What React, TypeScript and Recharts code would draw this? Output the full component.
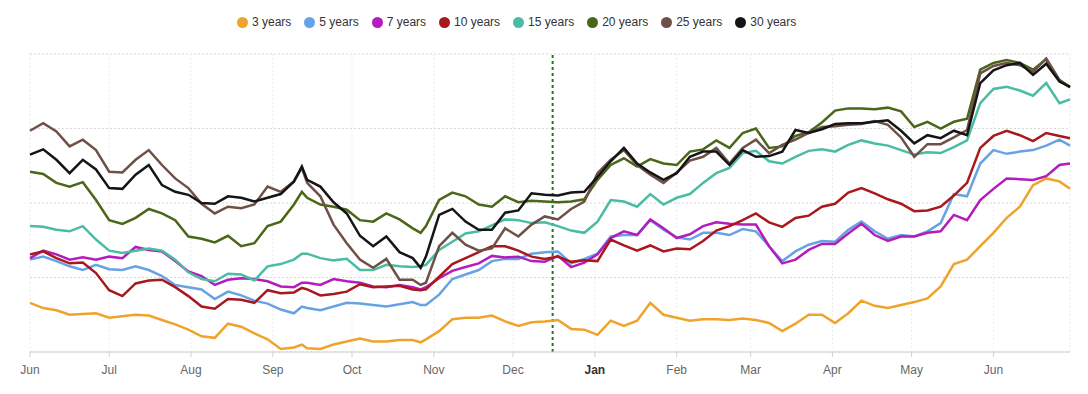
import { LineChart, Line, XAxis, YAxis, CartesianGrid, ReferenceLine } from "recharts"

// day offsets from 1 June
const days = [
  0, 5, 10, 15, 20, 25, 30, 35, 40, 45, 50, 55, 60, 65, 70, 75, 80, 85, 90, 95,
  100, 103, 105, 110, 115, 120, 125, 130, 135, 140, 145, 148, 150, 155, 160, 165, 170, 175, 180, 185, 190, 195,
  200, 205, 210, 215, 220, 225, 230, 235, 240, 245, 250, 255, 260, 265, 270, 275, 280, 285, 290, 295,
  300, 305, 310, 315, 320, 325, 330, 335, 340, 345, 350, 355, 360, 365, 370, 375, 380, 385, 390, 394,
]

const y3 = [
  0.66, 0.59, 0.56, 0.5, 0.51, 0.52, 0.46, 0.48, 0.5, 0.49, 0.43, 0.37, 0.3, 0.21, 0.19, 0.38, 0.34, 0.25, 0.17, 0.04,
  0.06, 0.1, 0.05, 0.04, 0.1, 0.14, 0.18, 0.14, 0.14, 0.16, 0.16, 0.13, 0.17, 0.28, 0.44, 0.46, 0.46, 0.49, 0.41, 0.35, 0.4, 0.41,
  0.43, 0.31, 0.3, 0.23, 0.42, 0.35, 0.42, 0.66, 0.5, 0.46, 0.42, 0.44, 0.44, 0.43, 0.45, 0.43, 0.39, 0.28, 0.38, 0.5,
  0.5, 0.39, 0.52, 0.69, 0.62, 0.59, 0.63, 0.67, 0.72, 0.88, 1.18, 1.24, 1.42, 1.6, 1.8, 1.95, 2.24, 2.33, 2.29, 2.19,
]
const y5 = [
  1.24, 1.28, 1.22, 1.15, 1.1, 1.17, 1.11, 1.1, 1.15, 1.1, 1.02, 0.9, 0.87, 0.84, 0.71, 0.81, 0.76, 0.69, 0.65, 0.57,
  0.52, 0.61, 0.59, 0.56, 0.61, 0.66, 0.65, 0.63, 0.61, 0.64, 0.67, 0.63, 0.63, 0.77, 0.98, 1.04, 1.1, 1.22, 1.25, 1.25, 1.32, 1.34,
  1.35, 1.19, 1.25, 1.32, 1.55, 1.57, 1.57, 1.77, 1.64, 1.54, 1.51, 1.6, 1.6, 1.57, 1.65, 1.62, 1.42, 1.22, 1.35, 1.44,
  1.49, 1.48, 1.64, 1.75, 1.62, 1.52, 1.57, 1.55, 1.62, 1.73, 2.12, 2.09, 2.53, 2.71, 2.66, 2.69, 2.71, 2.77, 2.85, 2.77,
]
const y7 = [
  1.26, 1.36, 1.31, 1.24, 1.27, 1.24, 1.28, 1.26, 1.41, 1.37, 1.35, 1.22, 1.08, 1.02, 0.9, 0.97, 0.99, 0.98, 0.95, 0.88,
  0.87, 0.93, 0.93, 0.9, 0.98, 0.95, 0.93, 0.88, 0.87, 0.9, 0.87, 0.84, 0.87, 0.99, 1.09, 1.14, 1.19, 1.29, 1.27, 1.28, 1.22, 1.21,
  1.29, 1.14, 1.2, 1.31, 1.53, 1.62, 1.57, 1.78, 1.66, 1.53, 1.58, 1.69, 1.74, 1.72, 1.71, 1.71, 1.42, 1.19, 1.24, 1.37,
  1.45, 1.45, 1.59, 1.72, 1.57, 1.49, 1.55, 1.55, 1.6, 1.62, 1.84, 1.77, 2.04, 2.19, 2.33, 2.32, 2.31, 2.36, 2.51, 2.53,
]
const y10 = [
  1.31, 1.35, 1.26, 1.19, 1.2, 1.06, 0.83, 0.75, 0.92, 0.96, 0.97, 0.87, 0.75, 0.61, 0.58, 0.71, 0.7, 0.66, 0.83, 0.79,
  0.8, 0.86, 0.84, 0.76, 0.78, 0.81, 0.91, 0.87, 0.88, 0.89, 0.84, 0.83, 0.84, 1.01, 1.18, 1.26, 1.34, 1.42, 1.42, 1.36, 1.28, 1.25,
  1.28, 1.21, 1.23, 1.22, 1.51, 1.43, 1.36, 1.43, 1.35, 1.39, 1.38, 1.49, 1.63, 1.69, 1.77, 1.86, 1.74, 1.68, 1.8, 1.83,
  1.95, 1.99, 2.14, 2.2, 2.13, 2.05, 1.99, 1.89, 1.9, 1.95, 2.1, 2.27, 2.74, 2.9, 2.97, 2.91, 2.83, 2.94, 2.9, 2.87,
]
const y15 = [
  1.69, 1.68, 1.64, 1.62, 1.69, 1.51, 1.36, 1.33, 1.36, 1.39, 1.36, 1.24, 1.07, 0.98, 0.95, 1.05, 1.04, 0.96, 1.15, 1.18,
  1.24, 1.32, 1.32, 1.26, 1.23, 1.25, 1.1, 1.1, 1.17, 1.15, 1.14, 1.15, 1.17, 1.37, 1.48, 1.59, 1.62, 1.7, 1.78, 1.77, 1.73, 1.74,
  1.69, 1.63, 1.6, 1.75, 2.04, 2.02, 1.95, 2.12, 1.98, 2.07, 2.12, 2.27, 2.4, 2.47, 2.67, 2.7, 2.56, 2.53, 2.62, 2.7,
  2.72, 2.69, 2.78, 2.84, 2.8, 2.77, 2.71, 2.65, 2.68, 2.67, 2.75, 2.84, 3.34, 3.53, 3.56, 3.51, 3.44, 3.61, 3.34, 3.39,
]
const y20 = [
  2.42, 2.39, 2.27, 2.22, 2.28, 2.04, 1.77, 1.72, 1.8, 1.92, 1.86, 1.77, 1.55, 1.52, 1.47, 1.56, 1.42, 1.46, 1.69, 1.75,
  1.98, 2.15, 2.07, 1.98, 1.95, 1.91, 1.77, 1.75, 1.86, 1.78, 1.66, 1.6, 1.69, 2.04, 2.14, 2.09, 1.98, 1.95, 2.09, 2.01, 2.03, 2.02,
  2.01, 2.02, 2.05, 2.31, 2.51, 2.6, 2.49, 2.59, 2.53, 2.51, 2.69, 2.72, 2.84, 2.74, 2.94, 3.0, 2.74, 2.76, 2.9, 2.95,
  3.08, 3.24, 3.27, 3.27, 3.26, 3.28, 3.23, 3.02, 3.09, 3.0, 3.09, 3.13, 3.79, 3.88, 3.92, 3.88, 3.79, 3.93, 3.65, 3.56,
]
const y25 = [
  2.97, 3.07, 2.96, 2.76, 2.85, 2.71, 2.42, 2.41, 2.58, 2.71, 2.51, 2.33, 2.2, 1.99, 1.86, 1.95, 1.93, 1.98, 2.22, 2.15,
  2.29, 2.47, 2.27, 2.09, 1.71, 1.46, 1.24, 1.13, 1.25, 0.97, 0.97, 0.9, 0.93, 1.42, 1.6, 1.44, 1.36, 1.39, 1.66, 1.55, 1.71, 1.82,
  1.78, 1.92, 2.02, 2.4, 2.58, 2.71, 2.51, 2.38, 2.27, 2.41, 2.57, 2.62, 2.74, 2.53, 2.74, 2.85, 2.67, 2.78, 2.85, 2.94,
  3.02, 3.03, 3.05, 3.06, 3.1, 3.05, 2.88, 2.62, 2.79, 2.79, 2.88, 2.98, 3.74, 3.84, 3.88, 3.85, 3.76, 3.94, 3.65, 3.55,
]
const y30 = [
  2.65, 2.72, 2.58, 2.4, 2.58, 2.45, 2.2, 2.19, 2.38, 2.51, 2.24, 2.15, 2.11, 2.0, 1.99, 2.09, 2.07, 2.02, 2.07, 2.12,
  2.29, 2.49, 2.31, 2.22, 2.01, 1.86, 1.56, 1.42, 1.55, 1.34, 1.26, 1.13, 1.28, 1.84, 1.92, 1.75, 1.64, 1.64, 1.87, 1.9, 2.13, 2.11,
  2.1, 2.14, 2.15, 2.35, 2.56, 2.74, 2.53, 2.41, 2.31, 2.4, 2.62, 2.69, 2.69, 2.51, 2.71, 2.62, 2.63, 2.69, 2.98, 2.94,
  2.99, 3.06, 3.07, 3.07, 3.09, 3.11, 2.97, 2.8, 2.91, 2.87, 2.97, 2.91, 3.61, 3.78, 3.85, 3.88, 3.72, 3.87, 3.63, 3.56,
]

const monthTicks = [0, 30, 61, 92, 122, 153, 183, 214, 245, 273, 304, 334, 365]
const monthLabels = ["Jun", "Jul", "Aug", "Sep", "Oct", "Nov", "Dec", "Jan", "Feb", "Mar", "Apr", "May", "Jun"]
const markerDay = 198

const series = [
  { key: "y3", name: "3 years", color: "#f0a32a", values: y3 },
  { key: "y5", name: "5 years", color: "#67a3e4", values: y5 },
  { key: "y7", name: "7 years", color: "#b41cbc", values: y7 },
  { key: "y10", name: "10 years", color: "#a8181c", values: y10 },
  { key: "y15", name: "15 years", color: "#49bca3", values: y15 },
  { key: "y20", name: "20 years", color: "#4a6618", values: y20 },
  { key: "y25", name: "25 years", color: "#6e5046", values: y25 },
  { key: "y30", name: "30 years", color: "#151515", values: y30 },
]

const data = days.map((d, i) => {
  const row: Record<string, number> = { d }
  series.forEach((s) => {
    row[s.key] = s.values[i]
  })
  return row
})

const font = "'Liberation Sans', Arial, sans-serif"

function MonthTick(props: any) {
  const { x, y, payload } = props
  const idx = monthTicks.indexOf(payload.value)
  const label = monthLabels[idx]
  const isJan = label === "Jan"
  return (
    <text
      x={x}
      y={y + 15}
      textAnchor="middle"
      fontSize={12}
      fontFamily={font}
      fontWeight={isJan ? "bold" : "normal"}
      fill={isJan ? "#333" : "#666"}
    >
      {label}
    </text>
  )
}

export default function App() {
  return (
    <div style={{ position: "relative", width: 1072, height: 380, fontFamily: font }}>
      <div
        style={{
          position: "absolute",
          left: 229,
          top: 7,
          display: "flex",
          alignItems: "center",
          fontSize: 12,
          color: "#333",
          whiteSpace: "nowrap",
        }}
      >
        {series.map((s) => (
          <div key={s.key} style={{ display: "flex", alignItems: "center", marginRight: 13 }}>
            <span
              style={{
                display: "inline-block",
                width: 11,
                height: 11,
                borderRadius: "50%",
                background: s.color,
                marginRight: 4,
              }}
            />
            {s.name}
          </div>
        ))}
      </div>
      <LineChart width={1072} height={380} data={data} margin={{ top: 46, right: 10, left: 22, bottom: 6 }}>
        <CartesianGrid horizontal={true} vertical={false} stroke="#d8d8d8" strokeDasharray="2 2" />
        <CartesianGrid horizontal={false} vertical={true} stroke="#ececec" strokeDasharray="2 2" />
        <XAxis
          dataKey="d"
          type="number"
          domain={[0, 394]}
          ticks={monthTicks}
          tick={<MonthTick />}
          tickSize={5}
          stroke="#d0d0d0"
          interval={0}
        />
        <YAxis hide domain={[0, 4]} ticks={[0, 1, 2, 3, 4]} />
        <ReferenceLine x={markerDay} stroke="#1d7a1d" strokeWidth={2} strokeDasharray="3 3" />
        {series.map((s) => (
          <Line
            key={s.key}
            type="linear"
            dataKey={s.key}
            name={s.name}
            stroke={s.color}
            strokeWidth={2.5}
            dot={false}
            isAnimationActive={false}
          />
        ))}
      </LineChart>
    </div>
  )
}
